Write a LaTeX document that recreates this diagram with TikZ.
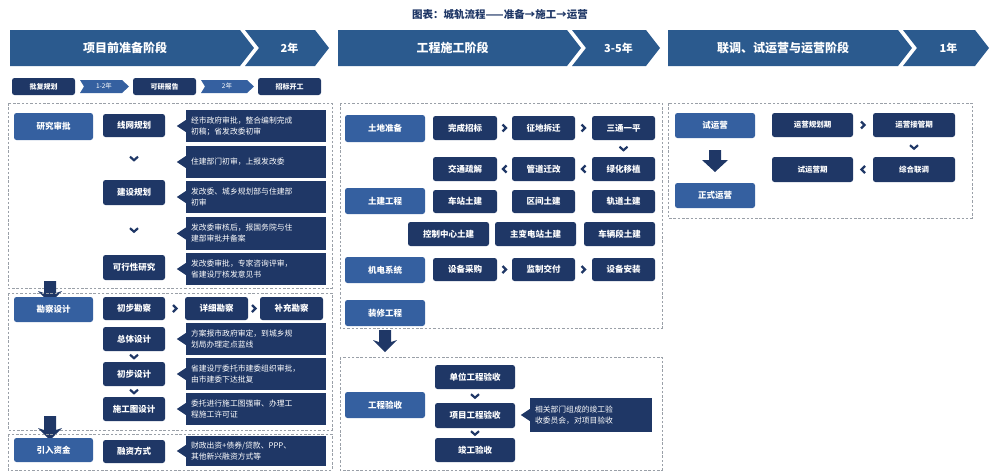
\documentclass[tikz,border=0pt]{standalone}
\usepackage{fontspec}
\setmainfont{Noto Sans CJK SC}
\usetikzlibrary{calc}
\definecolor{band}{HTML}{2B5A8E}
\definecolor{lt}{HTML}{3560A0}
\definecolor{dk}{HTML}{1F3766}
\definecolor{gr}{HTML}{9AA0A8}
\tikzset{
 base/.style={rounded corners=2.5pt,inner sep=0pt,text=white,font=\bfseries\fontsize{8.5}{10}\selectfont},
 cat/.style={base,fill=lt},
 stp/.style={base,fill=dk},
 desc/.style={fill=dk,inner sep=0pt,text=white,font=\fontsize{7.8}{11}\selectfont,align=left},
 dbox/.style={draw=gr,line width=0.8pt,dash pattern=on 2.5pt off 1.8pt},
 chev/.style={draw=dk,line width=2.2pt,line cap=butt,line join=miter},
 bigarr/.style={fill=dk}
}
\newcommand\bx[7]{\node[#2,minimum width={(#5-#3)*1pt},minimum height={(#6-#4)*1pt}] (#1) at ({(#3+#5)/2},{(#4+#6)/2}) {#7};}
\newcommand\ds[6]{\bx{#1}{desc,text width={(#4-#2-10)*1pt}}{#2}{#3}{#4}{#5}{#6}
 \fill[dk] ([yshift=6pt]#1.west) -- ++(-9pt,-6pt) -- ++(9pt,-6pt) -- cycle;}
\newcommand\rch[2]{\draw[chev] ($(#1.east)!0.5!(#2.west)+(-2pt,3.5pt)$) -- ++(3.5pt,-3.5pt) -- ++(-3.5pt,-3.5pt);}
\newcommand\lch[2]{\draw[chev] ($(#1.west)!0.5!(#2.east)+(2pt,3.5pt)$) -- ++(-3.5pt,-3.5pt) -- ++(3.5pt,-3.5pt);}
\newcommand\dch[2]{\draw[chev] ($(#1.south)!0.5!(#2.north)+(-4pt,1.8pt)$) -- ++(4pt,-3.5pt) -- ++(4pt,3.5pt);}
\newcommand\barr[3]{\fill[dk] (#1-6,#2) -- (#1+6,#2) -- (#1+6,#3-10) -- (#1+12,#3-12) -- (#1,#3) -- (#1-12,#3-12) -- (#1-6,#3-10) -- cycle;}
\newcommand\band[6]{% x0 x1 x2 text1 text2 name
 \fill[band] (#1,30) -- (#2,30) -- (#2+14,48) -- (#2,66) -- (#1,66) -- cycle;
 \fill[band] (#2+5,30) -- (#3,30) -- (#3+14,48) -- (#3,66) -- (#2+5,66) -- (#2+19,48) -- cycle;
 \node[text=white,font=\bfseries\fontsize{12}{14}\selectfont] (#6a) at ({(#1+#2)/2},48) {#4};
 \node[text=white,font=\bfseries\fontsize{11}{13}\selectfont] (#6b) at ({(#2+#3)/2+12},48) {#5};}
\begin{document}
\begin{tikzpicture}[x=1pt,y=-1pt]
\useasboundingbox (0,0) rectangle (1000,475);
\node[text=dk,font=\bfseries\fontsize{10.5}{12}\selectfont] (title) at (500,15) {图表：城轨流程——准备→施工→运营};
\band{10}{240}{315}{项目前准备阶段}{2年}{b1}
\band{338}{567}{646}{工程施工阶段}{3-5年}{b2}
\band{668}{898}{975}{联调、试运营与运营阶段}{1年}{b3}
% row 2
\bx{pf}{stp,font=\bfseries\fontsize{7}{8}\selectfont}{12}{78}{75}{95}{批复规划}
\bx{ky}{stp,font=\bfseries\fontsize{7}{8}\selectfont}{133}{78}{196}{95}{可研报告}
\bx{zb}{stp,font=\bfseries\fontsize{7}{8}\selectfont}{258}{78}{321}{95}{招标开工}
\fill[lt] (80,80) -- (122,80) -- (129,86.5) -- (122,93) -- (80,93) -- (84,86.5) -- cycle;
\node[text=white,font=\fontsize{6.5}{8}\selectfont] (y12) at (104,86.5) {1-2年};
\fill[lt] (201,80) -- (247,80) -- (254,86.5) -- (247,93) -- (201,93) -- (205,86.5) -- cycle;
\node[text=white,font=\fontsize{6.5}{8}\selectfont] (y2) at (227,86.5) {2年};
% left box 1
\draw[dbox] (8,103) rectangle (332,288);
\bx{yjsp}{cat}{14}{113}{93}{140}{研究审批}
\bx{xw}{stp}{103}{114}{165}{137}{线网规划}
\bx{js}{stp}{103}{180}{165}{205}{建设规划}
\bx{kx}{stp}{103}{255}{165}{280}{可行性研究}
\dch{xw}{js}\dch{js}{kx}
\ds{d1}{186}{110}{326}{142}{经市政府审批，整合编制完成\\初稿；省发改委初审}
\ds{d2}{186}{146}{326}{178}{住建部门初审，上报发改委}
\ds{d3}{186}{181}{326}{213}{发改委、城乡规划部与住建部\\初审}
\ds{d4}{186}{217}{326}{250}{发改委审核后，报国务院与住\\建部审批并备案}
\ds{d5}{186}{253}{326}{285}{发改委审批，专家咨询评审，\\省建设厅核发意见书}
\barr{50}{281}{303}
% left box 2
\draw[dbox] (8,293) rectangle (332,430);
\bx{kc}{cat}{14}{297}{93}{322}{勘察设计}
\bx{cbk}{stp}{103}{297}{165}{320}{初步勘察}
\bx{xxk}{stp}{185}{297}{248}{320}{详细勘察}
\bx{bck}{stp}{260}{297}{323}{320}{补充勘察}
\rch{cbk}{xxk}\rch{xxk}{bck}
\bx{zt}{stp}{103}{327}{165}{351}{总体设计}
\bx{cbs}{stp}{103}{362}{165}{386}{初步设计}
\bx{sgt}{stp}{103}{397}{165}{421}{施工图设计}
\dch{zt}{cbs}\dch{cbs}{sgt}
\ds{d6}{186}{323}{326}{355}{方案报市政府审定，到城乡规\\划局办理定点蓝线}
\ds{d7}{186}{358}{326}{390}{省建设厅委托市建委组织审批，\\由市建委下达批复}
\ds{d8}{186}{393}{326}{425}{委托进行施工图强审、办理工\\程施工许可证}
\barr{50}{416}{440}
% left box 3
\draw[dbox] (8,434) rectangle (332,470);
\bx{yr}{cat}{14}{438}{93}{462}{引入资金}
\bx{rz}{stp}{103}{440}{165}{463}{融资方式}
\ds{d9}{186}{436}{326}{466}{财政出资+债券/贷款、PPP、\\其他新兴融资方式等}
% middle box
\draw[dbox] (340,103) rectangle (662,328);
\bx{tdzb}{cat}{345}{115}{425}{142}{土地准备}
\bx{wc}{stp}{433}{116}{497}{140}{完成招标}
\bx{zd}{stp}{512}{116}{575}{140}{征地拆迁}
\bx{st}{stp}{592}{116}{655}{140}{三通一平}
\bx{jt}{stp}{433}{157}{497}{181}{交通疏解}
\bx{gd}{stp}{512}{157}{575}{181}{管道迁改}
\bx{lh}{stp}{592}{157}{655}{181}{绿化移植}
\rch{wc}{zd}\rch{zd}{st}\dch{st}{lh}\lch{lh}{gd}\lch{gd}{jt}
\bx{tj}{cat}{345}{188}{425}{214}{土建工程}
\bx{cz}{stp}{433}{190}{497}{213}{车站土建}
\bx{qj}{stp}{512}{190}{575}{213}{区间土建}
\bx{gdt}{stp}{592}{190}{655}{213}{轨道土建}
\bx{kz}{stp}{408}{222}{489}{246}{控制中心土建}
\bx{zbd}{stp}{495}{222}{576}{246}{主变电站土建}
\bx{cl}{stp}{584}{222}{655}{246}{车辆段土建}
\bx{jd}{cat}{345}{257}{425}{283}{机电系统}
\bx{cg}{stp}{433}{258}{497}{281}{设备采购}
\bx{jz}{stp}{512}{258}{575}{281}{监制交付}
\bx{az}{stp}{592}{258}{655}{281}{设备安装}
\rch{cg}{jz}\rch{jz}{az}
\bx{zx}{cat}{345}{300}{425}{326}{装修工程}
\barr{385}{330}{352}
\draw[dbox] (340,357) rectangle (662,470);
\bx{gcys}{cat}{345}{392}{425}{418}{工程验收}
\bx{dw}{stp}{435}{365}{515}{389}{单位工程验收}
\bx{xm}{stp}{435}{403}{515}{428}{项目工程验收}
\bx{jg}{stp}{435}{438}{515}{462}{竣工验收}
\dch{dw}{xm}\dch{xm}{jg}
\ds{d10}{530}{398}{652}{432}{相关部门组成的竣工验\\收委员会，对项目验收}
% right box
\draw[dbox] (668,103) rectangle (972,218);
\bx{syy}{cat}{675}{113}{755}{138}{试运营}
\bx{zs}{cat}{675}{183}{755}{208}{正式运营}
\fill[dk] (709,150) -- (721,150) -- (721,160) -- (728,160) -- (715,172) -- (702,160) -- (709,160) -- cycle;
\bx{gh}{stp,font=\bfseries\fontsize{7.5}{9}\selectfont}{772}{113}{853}{137}{运营规划期}
\bx{jg2}{stp,font=\bfseries\fontsize{7.5}{9}\selectfont}{873}{113}{955}{137}{运营接管期}
\bx{sq}{stp,font=\bfseries\fontsize{7.5}{9}\selectfont}{772}{157}{853}{182}{试运营期}
\bx{zh}{stp,font=\bfseries\fontsize{7.5}{9}\selectfont}{873}{157}{955}{182}{综合联调}
\rch{gh}{jg2}\dch{jg2}{zh}\lch{zh}{sq}
\end{tikzpicture}
\end{document}
